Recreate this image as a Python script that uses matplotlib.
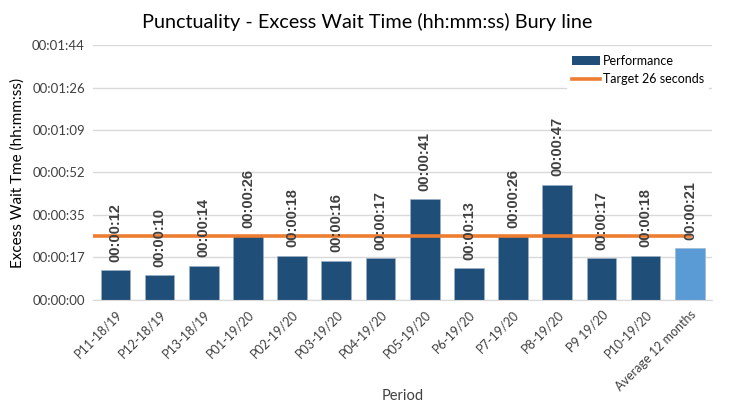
import matplotlib
matplotlib.use("Agg")
import matplotlib.pyplot as plt
from matplotlib.lines import Line2D
from matplotlib.patches import Patch

periods = ["P11-18/19", "P12-18/19", "P13-18/19", "P01-19/20", "P02-19/20",
           "P03-19/20", "P04-19/20", "P05-19/20", "P6-19/20", "P7-19/20",
           "P8-19/20", "P9 19/20", "P10-19/20", "Average 12 months"]
wait_seconds = [12, 10, 14, 26, 18, 16, 17, 41, 13, 26, 47, 17, 18, 21]
target_seconds = 26
y_ticks = [0, 104 / 6, 2 * 104 / 6, 3 * 104 / 6, 4 * 104 / 6, 5 * 104 / 6, 104]
y_tick_labels = ["00:00:00", "00:00:17", "00:00:35", "00:00:52",
                 "00:01:09", "00:01:26", "00:01:44"]

dark_blue = "#1F4E79"
light_blue = "#5B9BD5"
orange = "#ED7D31"
text_grey = "#404040"

plt.rcParams['font.family'] = ['Lato', 'DejaVu Sans']


def fmt_hms(sec):
    return "%02d:%02d:%02d" % (sec // 3600, (sec % 3600) // 60, sec % 60)


fig = plt.figure(figsize=(7.34, 4.03), dpi=100)
ax = fig.add_axes([0.127, 0.256, 0.843, 0.632])

x = list(range(len(periods)))
colors = [dark_blue] * (len(periods) - 1) + [light_blue]
bars = ax.bar(x, wait_seconds, width=0.67, color=colors,
              edgecolor="#9DB3CC", linewidth=0.4, zorder=2)

# value labels, rotated, sitting just above each bar
for xi, v in zip(x, wait_seconds):
    ax.annotate(fmt_hms(v), (xi, v), xytext=(0, 6), textcoords="offset points",
                rotation=90, ha="center", va="bottom", fontsize=10.5,
                fontweight="bold", color=text_grey,
                family=['Liberation Sans', 'DejaVu Sans'], zorder=4)

ax.plot([-0.5, len(periods) - 1], [target_seconds, target_seconds],
        color=orange, linewidth=2.6, zorder=3)

ax.set_xlim(-0.5, len(periods) - 0.5)
ax.set_ylim(0, 104)
ax.set_yticks(y_ticks)
ax.set_yticklabels(y_tick_labels, fontsize=9.5, color=text_grey)
ax.set_xticks(x)
ax.set_xticklabels(periods, rotation=45, ha="right", rotation_mode="anchor",
                   fontsize=9, color=text_grey)
ax.tick_params(axis="both", length=0, pad=6)
ax.yaxis.grid(True, color="#D9D9D9", linewidth=1)
ax.set_axisbelow(True)
for side in ["top", "right", "left"]:
    ax.spines[side].set_visible(False)
ax.spines["bottom"].set_color("#D9D9D9")

ax.set_ylabel("Excess Wait Tme (hh:mm:ss)", fontsize=11, color="black",
              labelpad=5)
fig.text(0.5 * (0.127 + 0.970), 1 - 396 / 403, "Period", ha="center",
         va="center", fontsize=10.5, color=text_grey)
fig.text(0.5, 0.945, "Punctuality - Excess Wait Time (hh:mm:ss) Bury line",
         ha="center", va="center", fontsize=14.3, color="black")

handles = [Patch(facecolor=dark_blue, label="Performance"),
           Line2D([0], [0], color=orange, linewidth=2.6,
                  label="Target 26 seconds")]
leg = ax.legend(handles=handles, loc="upper right",
                bbox_to_anchor=(1.0, 0.99), frameon=True, fontsize=9,
                handlelength=2.2, handletextpad=0.3, labelspacing=0.5,
                borderaxespad=0.2)
leg.get_frame().set_edgecolor("none")
leg.get_frame().set_facecolor("white")
leg.get_frame().set_alpha(1)

fig.savefig("out.png", dpi=100)
